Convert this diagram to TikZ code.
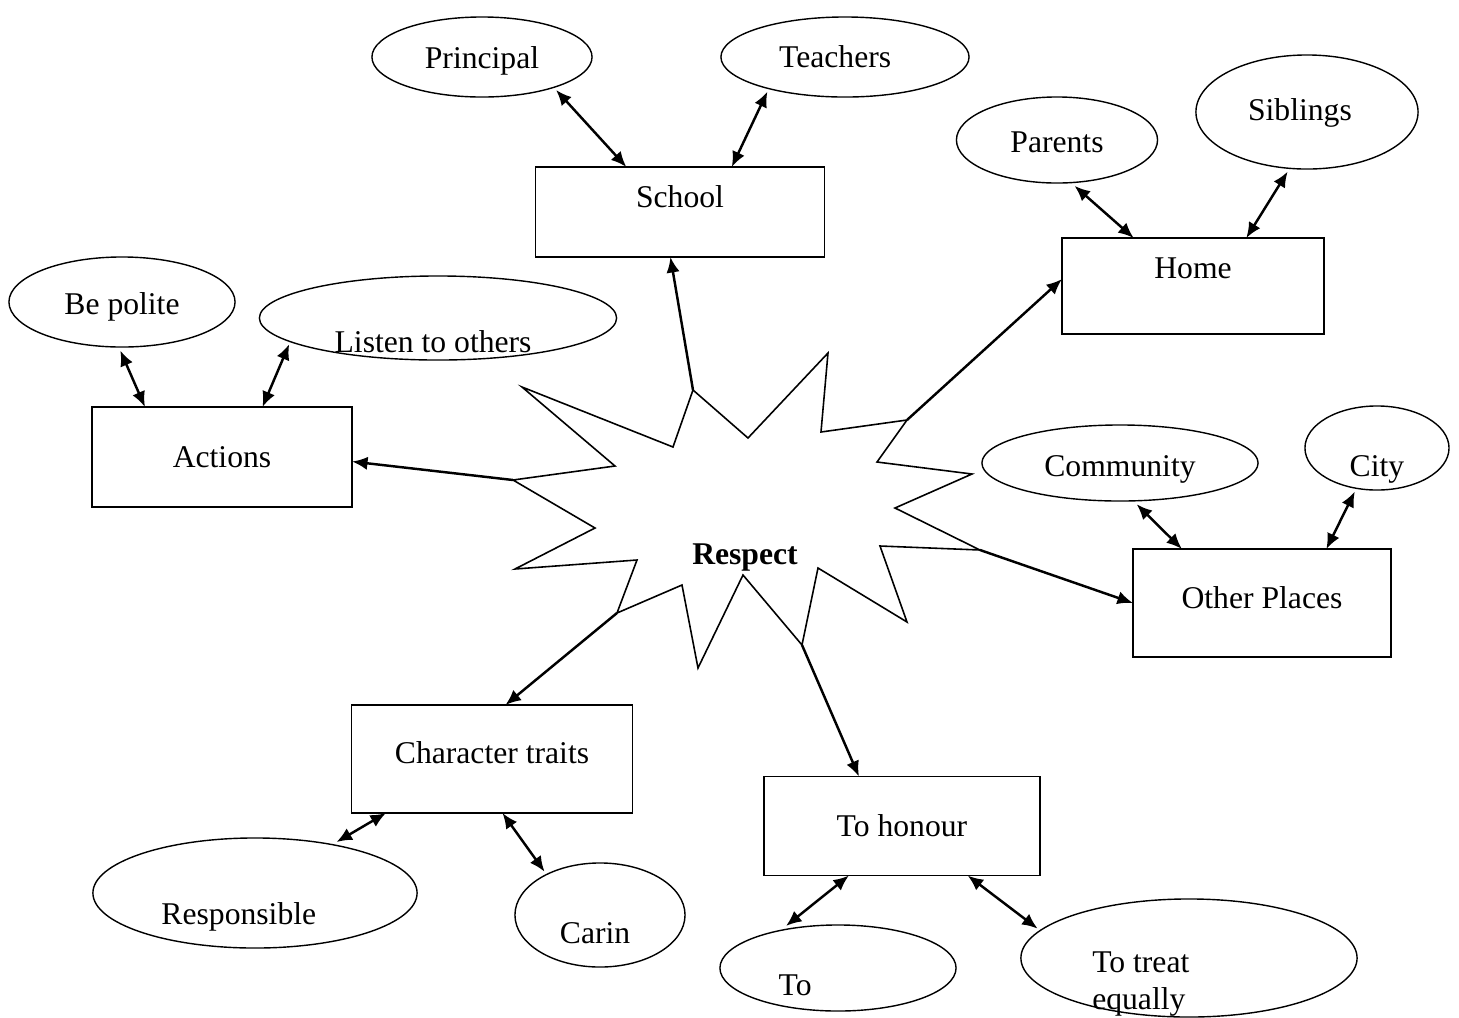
\documentclass[tikz,border=0pt]{standalone}
\usepackage{fontspec}
\setmainfont{Liberation Serif}
\usetikzlibrary{shapes.geometric,arrows.meta,calc}
\newcommand{\nudge}[3]{\raisebox{#2}[0pt][0pt]{\hspace*{#1}#3\hspace*{-#1}}}

\begin{document}
\begin{tikzpicture}[x=0.01cm, y=-0.01cm, font=\fontsize{9}{10.5}\selectfont]
    \tikzstyle{block} = [rectangle, draw, line width=0.4pt, inner sep=0pt, outer sep=0pt]
    \tikzstyle{bubble} = [ellipse, draw, line width=0.4pt, inner sep=0pt, outer sep=1pt]
    \tikzstyle{arrow} = [line width=0.7pt, ->, >={Latex[length=4.4pt,width=3.8pt]}]
    \tikzstyle{both} = [line width=0.7pt, <->, >={Latex[length=4.4pt,width=3.8pt]}]

    \useasboundingbox (0,0) rectangle (1459,1017);

    \draw [line width=0.45pt] (693,390) coordinate (tipschool) -- (748,438) -- (828,353) -- (821,432)
        -- (907,420) coordinate (tiphome) -- (877,462) -- (972,474) -- (895,508)
        -- (980,550) coordinate (tipother) -- (880,546) -- (907,622) -- (818,568)
        -- (802,645) coordinate (tiphonour) -- (743,575) -- (698,668) -- (682,585)
        -- (617,613) coordinate (tiptraits) -- (637,560) -- (515,569) -- (595,528)
        -- (513,480) coordinate (tipactions) -- (615,466) -- (522,387) -- (673,447) -- cycle;
    \node (respect) at (745,557) {\textbf{Respect}};

    \node (school) [block, minimum width=2.89cm, minimum height=0.9cm] at (680,212) {\nudge{0pt}{1.3pt}{School}};
    \node (home) [block, minimum width=2.62cm, minimum height=0.96cm] at (1193,286) {\nudge{0pt}{2.1pt}{Home}};
    \node (actions) [block, minimum width=2.6cm, minimum height=1cm] at (222,457) {Actions};
    \node (other) [block, minimum width=2.58cm, minimum height=1.08cm] at (1262,603) {\nudge{0pt}{-1.6pt}{Other Places}};
    \node (traits) [block, minimum width=2.81cm, minimum height=1.08cm] at (492,759) {\nudge{0pt}{-1.3pt}{Character traits}};
    \node (honour) [block, minimum width=2.76cm, minimum height=0.99cm] at (902,826) {To honour};

    \node (principal) [bubble, minimum width=2.2cm, minimum height=0.8cm] at (482,57) {\nudge{0pt}{-3.2pt}{Principal}};
    \node (teachers) [bubble, minimum width=2.48cm, minimum height=0.8cm] at (845,57) {\nudge{-2.8pt}{-3pt}{Teachers}};
    \node (parents) [bubble, minimum width=2.01cm, minimum height=0.86cm] at (1057,140) {\nudge{0pt}{-3.6pt}{Parents}};
    \node (siblings) [bubble, minimum width=2.22cm, minimum height=1.14cm] at (1307,112) {\nudge{-2pt}{-2.4pt}{Siblings}};
    \node (polite) [bubble, minimum width=2.26cm, minimum height=0.9cm] at (122,302) {\nudge{0pt}{-3.6pt}{Be polite}};
    \node (listen) [bubble, minimum width=3.57cm, minimum height=0.84cm] at (438,318) {\nudge{-1.4pt}{-9.8pt}{Listen to others}};
    \node (community) [bubble, minimum width=2.76cm, minimum height=0.76cm] at (1120,463) {\nudge{0pt}{-3.9pt}{Community}};
    \node (city) [bubble, minimum width=1.44cm, minimum height=0.84cm] at (1377,448) {\nudge{0pt}{-8.1pt}{City}};
    \node (responsible) [bubble, minimum width=3.24cm, minimum height=1.1cm] at (255,893) {\nudge{-4.6pt}{-9pt}{Responsible}};
    \node (carin) [bubble, minimum width=1.7cm, minimum height=1.04cm] at (600,915) {\nudge{-1.4pt}{-8.1pt}{Carin}};
    \node (to) [bubble, minimum width=2.36cm, minimum height=0.86cm] at (838,968) {\nudge{-12.2pt}{-7.8pt}{To}};
    \node (treat) [bubble, minimum width=3.36cm, minimum height=1.18cm] at (1189,958) {\nudge{-13.7pt}{-9.4pt}{\begin{tabular}{@{}l@{}}To treat\\equally\end{tabular}}};

    \draw [arrow] (tipschool) -- (school.-102);
    \draw [arrow] (tiphome) -- (home.177);
    \draw [arrow] (tipactions) -- (actions.-2);
    \draw [arrow] (tipother) -- (other.west);
    \draw [arrow] (tiptraits) -- (traits.76);
    \draw [arrow] (tiphonour) -- (honour.131);

    \draw [both] (principal.-24) -- (school.140);
    \draw [both] (teachers.-156) -- (school.41);
    \draw [both] (parents.-69) -- (home.141);
    \draw [both] (siblings.-108) -- (home.42);
    \draw [both] (polite.-92) -- (actions.147);
    \draw [both] (listen.-170) -- (actions.51);
    \draw [both] (community.-68) -- (other.146);
    \draw [both] (city.-117) -- (other.40);
    \draw [both] (traits.207) -- (responsible.32);
    \draw [both] (traits.-79) -- (carin.142);
    \draw [both] (honour.-137) -- (to.141);
    \draw [both] (honour.-37) -- (treat.169);
\end{tikzpicture}
\end{document}
